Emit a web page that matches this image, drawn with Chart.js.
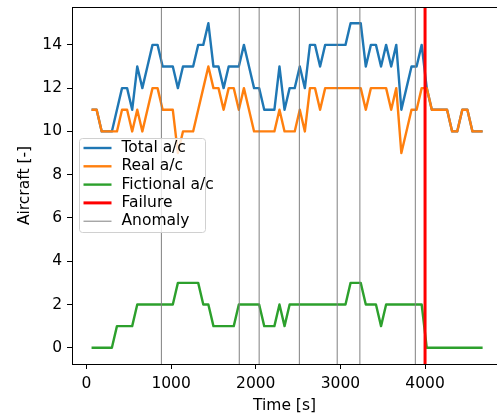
<!DOCTYPE html>
<html>
<head>
<meta charset="utf-8">
<script src="https://cdn.jsdelivr.net/npm/chart.js@4.4.1/dist/chart.umd.min.js"></script>
<style>
  html, body { margin: 0; padding: 0; background: #fff; }
  #wrap { width: 497px; height: 417px; }
</style>
</head>
<body>
<div id="wrap"><canvas id="chart"></canvas></div>
<script>
// sample times [s]
const times = [
  60, 120, 180, 240, 300, 360, 420, 480, 540, 600,
  660, 720, 780, 840, 900, 960, 1020, 1080, 1140, 1200,
  1260, 1320, 1380, 1440, 1500, 1560, 1620, 1680, 1740, 1800,
  1860, 1920, 1980, 2040, 2100, 2160, 2220, 2280, 2340, 2400,
  2460, 2520, 2580, 2640, 2700, 2760, 2820, 2880, 2940, 3000,
  3060, 3120, 3180, 3240, 3300, 3360, 3420, 3480, 3540, 3600,
  3660, 3720, 3780, 3840, 3900, 3960, 4020, 4080, 4140, 4200,
  4260, 4320, 4380, 4440, 4500, 4560, 4620, 4680,
];

const totalAc = [
  11, 11, 10, 10, 10, 11, 12, 12, 11, 13,
  12, 13, 14, 14, 13, 13, 13, 12, 13, 13,
  13, 14, 14, 15, 13, 13, 12, 13, 13, 13,
  14, 13, 12, 12, 11, 11, 11, 13, 11, 12,
  12, 13, 12, 14, 14, 13, 14, 14, 14, 14,
  14, 15, 15, 15, 13, 14, 14, 13, 14, 13,
  14, 11, 12, 13, 13, 14, 12, 11, 11, 11,
  11, 10, 10, 11, 11, 10, 10, 10,
];

const realAc = [
  11, 11, 10, 10, 10, 10, 11, 11, 10, 11,
  10, 11, 12, 12, 11, 11, 11, 9, 10, 10,
  10, 11, 12, 13, 12, 12, 11, 12, 12, 11,
  12, 11, 10, 10, 10, 10, 10, 11, 10, 10,
  10, 11, 10, 12, 12, 11, 12, 12, 12, 12,
  12, 12, 12, 12, 11, 12, 12, 12, 12, 11,
  12, 9, 10, 11, 11, 12, 12, 11, 11, 11,
  11, 10, 10, 11, 11, 10, 10, 10,
];

const fictionalAc = [
  0, 0, 0, 0, 0, 1, 1, 1, 1, 2,
  2, 2, 2, 2, 2, 2, 2, 3, 3, 3,
  3, 3, 2, 2, 1, 1, 1, 1, 1, 2,
  2, 2, 2, 2, 1, 1, 1, 2, 1, 2,
  2, 2, 2, 2, 2, 2, 2, 2, 2, 2,
  2, 3, 3, 3, 2, 2, 2, 1, 2, 2,
  2, 2, 2, 2, 2, 2, 0, 0, 0, 0,
  0, 0, 0, 0, 0, 0, 0, 0,
];

const failureTimes = [4000];
const anomalyTimes = [885, 1805, 2040, 2515, 2962, 3230, 3885];

const xTicks = [0, 1000, 2000, 3000, 4000];
const yTicks = [0, 2, 4, 6, 8, 10, 12, 14];

const X_MIN = -171, X_MAX = 4850, Y_MIN = -0.75, Y_MAX = 15.75;
const FONT = { family: "'DejaVu Sans', sans-serif", size: 15.5 };

Chart.defaults.font.family = FONT.family;
Chart.defaults.font.size = FONT.size;
Chart.defaults.color = '#000';

const toPoints = (values) => values.map((v, i) => ({ x: times[i], y: v }));
// vertical lines over the whole axis height, split by null gaps
const vLines = (ts) => ts.flatMap(t => [{ x: t, y: Y_MIN }, { x: t, y: Y_MAX }, { x: t, y: null }]);

const series = (label, color, data, order, width = 2.4) => ({
  label, data, order,
  borderColor: color,
  backgroundColor: color,
  borderWidth: width,
  borderJoinStyle: 'round',
  pointRadius: 0,
  tension: 0,
  fill: false,
  spanGaps: false,
});

const datasets = [
  series('Total a/c', '#1f77b4', toPoints(totalAc), 5),
  series('Real a/c', '#ff7f0e', toPoints(realAc), 4),
  series('Fictional a/c', '#2ca02c', toPoints(fictionalAc), 3),
  series('Failure', '#ff0000', vLines(failureTimes), 2, 3),
  series('Anomaly', '#808080', vLines(anomalyTimes), 1, 1),
];

const frame = {
  id: 'frame',
  afterDraw(chart) {
    const { ctx, chartArea } = chart;
    ctx.save();
    // top spine
    ctx.strokeStyle = '#000';
    ctx.lineWidth = 1;
    ctx.beginPath();
    ctx.moveTo(chartArea.left, Math.round(chartArea.top) + 0.5);
    ctx.lineTo(chartArea.right, Math.round(chartArea.top) + 0.5);
    ctx.stroke();

    // legend box
    const x0 = 79.5, y0 = 138.5, w = 126, h = 94, rowH = 18.3;
    ctx.fillStyle = 'rgba(255,255,255,0.8)';
    ctx.strokeStyle = '#d0d0d0';
    ctx.beginPath();
    ctx.roundRect(x0, y0, w, h, 3);
    ctx.fill();
    ctx.stroke();
    ctx.font = `${FONT.size}px ${FONT.family}`;
    ctx.textBaseline = 'middle';
    chart.data.datasets.forEach((ds, i) => {
      const y = y0 + 9.5 + i * rowH;
      ctx.strokeStyle = ds.borderColor;
      ctx.lineWidth = ds.borderWidth;
      ctx.beginPath();
      ctx.moveTo(x0 + 4, y);
      ctx.lineTo(x0 + 32, y);
      ctx.stroke();
      ctx.fillStyle = '#000';
      ctx.fillText(ds.label, x0 + 42, y);
    });
    ctx.restore();
  },
};

const axisGrid = { display: true, drawOnChartArea: false, drawTicks: true, tickLength: 5, tickColor: '#000', tickWidth: 1 };
const axisBorder = { display: true, color: '#000', width: 1 };

new Chart(document.getElementById('chart'), {
  type: 'line',
  data: { datasets },
  options: {
    responsive: true,
    maintainAspectRatio: false,
    animation: false,
    devicePixelRatio: 1,
    layout: { padding: { top: 7, right: 0, bottom: 0, left: 0 } },
    plugins: {
      legend: { display: false },
      tooltip: { enabled: false },
    },
    scales: {
      x: {
        type: 'linear',
        min: X_MIN,
        max: X_MAX,
        grid: axisGrid,
        border: axisBorder,
        afterBuildTicks: (s) => { s.ticks = xTicks.map(value => ({ value })); },
        afterFit: (s) => { s.height = 53; s.paddingLeft = 0; s.paddingRight = 0; },
        ticks: { padding: 6, maxRotation: 0, callback: (v) => String(v) },
        title: { display: true, text: 'Time [s]', padding: { top: 0, bottom: 2 } },
      },
      y: {
        type: 'linear',
        min: Y_MIN,
        max: Y_MAX,
        grid: axisGrid,
        border: axisBorder,
        afterBuildTicks: (s) => { s.ticks = yTicks.map(value => ({ value })); },
        afterFit: (s) => { s.width = 72; s.paddingTop = 0; s.paddingBottom = 0; },
        ticks: { padding: 5, callback: (v) => String(v) },
        title: { display: true, text: 'Aircraft [-]', padding: { top: 16, bottom: 0 } },
      },
    },
  },
  plugins: [frame],
});
</script>
</body>
</html>
